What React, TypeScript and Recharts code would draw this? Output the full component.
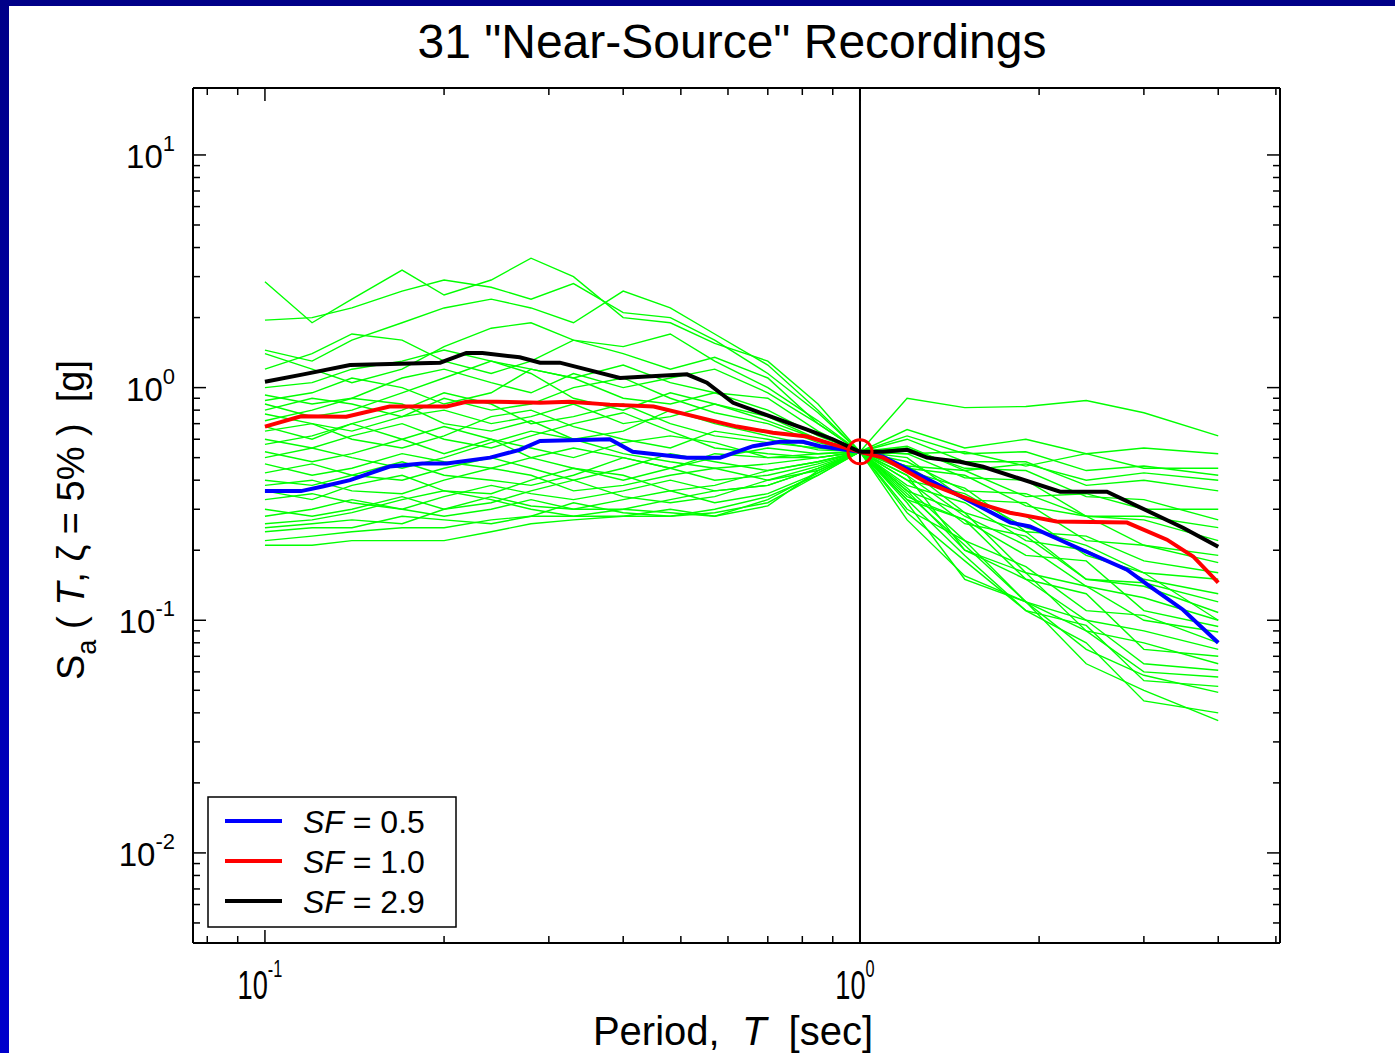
import React from "react";
import { LineChart, Line, XAxis, YAxis, ReferenceLine, ReferenceDot } from "recharts";

// periods (sec) at which the 31 record spectra are sampled
const PERIODS = [0.1, 0.12, 0.14, 0.17, 0.2, 0.24, 0.28, 0.33, 0.4, 0.48, 0.57, 0.7, 0.85, 1.0, 1.2, 1.5, 1.9, 2.4, 3.0, 4.0];

// Sa(T) [g] of each scaled record, one row per record
const RECORDS = [
  [2.85, 1.9, 2.4, 3.2, 2.5, 2.9, 3.6, 3.0, 2.0, 1.9, 1.55, 1.3, 0.85, 0.53, 0.5, 0.33, 0.28, 0.19, 0.16, 0.1],
  [1.95, 2.0, 2.2, 2.6, 2.9, 2.7, 2.4, 2.8, 2.1, 2.0, 1.6, 1.15, 0.78, 0.53, 0.9, 0.82, 0.83, 0.88, 0.78, 0.62],
  [1.45, 1.3, 1.6, 1.9, 2.2, 2.4, 2.2, 1.9, 2.6, 2.2, 1.7, 1.25, 0.8, 0.53, 0.45, 0.29, 0.24, 0.15, 0.145, 0.12],
  [1.4, 1.2, 1.05, 1.2, 1.5, 1.8, 1.9, 1.6, 1.5, 1.7, 1.3, 1.0, 0.72, 0.53, 0.56, 0.44, 0.47, 0.4, 0.43, 0.4],
  [1.2, 1.4, 1.7, 1.6, 1.3, 1.15, 1.3, 1.6, 1.4, 1.2, 1.35, 1.1, 0.7, 0.53, 0.33, 0.27, 0.15, 0.13, 0.075, 0.07],
  [1.0, 1.05, 1.2, 1.3, 1.45, 1.3, 1.2, 1.1, 1.25, 1.05, 0.95, 0.9, 0.65, 0.53, 0.66, 0.55, 0.6, 0.52, 0.55, 0.52],
  [0.93, 0.85, 0.9, 1.1, 1.2, 1.05, 0.95, 1.15, 1.0, 1.1, 1.2, 0.95, 0.7, 0.53, 0.46, 0.33, 0.32, 0.22, 0.21, 0.177],
  [0.88, 0.95, 1.1, 1.0, 0.85, 0.95, 1.2, 1.1, 0.9, 0.85, 0.95, 0.8, 0.62, 0.53, 0.27, 0.155, 0.12, 0.065, 0.05, 0.037],
  [0.85, 0.75, 0.8, 0.95, 1.1, 1.3, 1.15, 0.9, 0.8, 0.95, 0.85, 0.72, 0.6, 0.53, 0.55, 0.45, 0.44, 0.34, 0.33, 0.27],
  [0.8, 0.9, 0.85, 0.75, 0.9, 0.8, 0.85, 1.0, 1.1, 0.9, 0.78, 0.7, 0.58, 0.53, 0.36, 0.29, 0.16, 0.14, 0.1, 0.089],
  [0.77, 0.7, 0.65, 0.75, 0.8, 0.7, 0.75, 0.85, 0.7, 0.75, 0.85, 0.75, 0.6, 0.53, 0.62, 0.52, 0.53, 0.44, 0.46, 0.42],
  [0.72, 0.8, 0.9, 0.85, 0.7, 0.65, 0.72, 0.6, 0.65, 0.8, 0.7, 0.62, 0.56, 0.53, 0.3, 0.22, 0.12, 0.09, 0.06, 0.057],
  [0.68, 0.6, 0.7, 0.8, 0.95, 0.85, 0.7, 0.75, 0.85, 0.7, 0.62, 0.58, 0.55, 0.53, 0.48, 0.36, 0.35, 0.28, 0.28, 0.25],
  [0.65, 0.7, 0.6, 0.55, 0.62, 0.75, 0.8, 0.68, 0.6, 0.55, 0.65, 0.6, 0.54, 0.53, 0.4, 0.26, 0.23, 0.15, 0.14, 0.108],
  [0.6, 0.55, 0.62, 0.7, 0.6, 0.55, 0.62, 0.7, 0.78, 0.65, 0.55, 0.52, 0.5, 0.53, 0.52, 0.53, 0.46, 0.52, 0.45, 0.45],
  [0.57, 0.62, 0.7, 0.6, 0.52, 0.6, 0.55, 0.5, 0.58, 0.62, 0.58, 0.5, 0.5, 0.53, 0.36, 0.2, 0.16, 0.09, 0.08, 0.065],
  [0.53, 0.48, 0.52, 0.6, 0.68, 0.6, 0.5, 0.55, 0.5, 0.45, 0.5, 0.55, 0.52, 0.53, 0.45, 0.42, 0.31, 0.28, 0.21, 0.19],
  [0.5, 0.55, 0.5, 0.45, 0.5, 0.58, 0.65, 0.6, 0.52, 0.48, 0.45, 0.47, 0.5, 0.53, 0.29, 0.18, 0.11, 0.08, 0.045, 0.04],
  [0.47, 0.42, 0.45, 0.52, 0.48, 0.45, 0.5, 0.45, 0.4, 0.45, 0.52, 0.5, 0.52, 0.53, 0.6, 0.48, 0.48, 0.38, 0.4, 0.36],
  [0.43, 0.47, 0.42, 0.4, 0.45, 0.5, 0.45, 0.4, 0.45, 0.52, 0.48, 0.44, 0.48, 0.53, 0.4, 0.35, 0.25, 0.21, 0.16, 0.15],
  [0.4, 0.38, 0.42, 0.48, 0.42, 0.4, 0.38, 0.42, 0.5, 0.45, 0.4, 0.42, 0.47, 0.53, 0.37, 0.22, 0.17, 0.11, 0.105, 0.08],
  [0.38, 0.4, 0.36, 0.35, 0.4, 0.45, 0.42, 0.36, 0.38, 0.42, 0.45, 0.4, 0.46, 0.53, 0.46, 0.44, 0.34, 0.35, 0.3, 0.3],
  [0.36, 0.33, 0.38, 0.42, 0.36, 0.35, 0.4, 0.45, 0.42, 0.36, 0.38, 0.44, 0.48, 0.53, 0.35, 0.21, 0.12, 0.1, 0.065, 0.061],
  [0.33, 0.35, 0.32, 0.3, 0.34, 0.38, 0.35, 0.33, 0.36, 0.4, 0.36, 0.38, 0.45, 0.53, 0.52, 0.41, 0.4, 0.28, 0.27, 0.22],
  [0.3, 0.28, 0.3, 0.34, 0.3, 0.32, 0.36, 0.4, 0.34, 0.32, 0.34, 0.4, 0.44, 0.53, 0.33, 0.19, 0.11, 0.095, 0.055, 0.052],
  [0.28, 0.3, 0.33, 0.3, 0.28, 0.3, 0.33, 0.3, 0.33, 0.36, 0.32, 0.35, 0.43, 0.53, 0.44, 0.37, 0.24, 0.23, 0.18, 0.16],
  [0.26, 0.27, 0.29, 0.33, 0.36, 0.33, 0.3, 0.28, 0.3, 0.33, 0.36, 0.38, 0.45, 0.53, 0.42, 0.2, 0.15, 0.1, 0.09, 0.075],
  [0.25, 0.26, 0.27, 0.26, 0.3, 0.34, 0.31, 0.3, 0.3, 0.29, 0.28, 0.33, 0.43, 0.53, 0.38, 0.32, 0.22, 0.2, 0.15, 0.13],
  [0.24, 0.25, 0.25, 0.28, 0.27, 0.26, 0.28, 0.32, 0.29, 0.28, 0.3, 0.34, 0.42, 0.53, 0.32, 0.15, 0.12, 0.075, 0.058, 0.049],
  [0.22, 0.23, 0.24, 0.25, 0.25, 0.27, 0.28, 0.28, 0.28, 0.3, 0.28, 0.31, 0.44, 0.53, 0.42, 0.28, 0.21, 0.14, 0.125, 0.1],
  [0.21, 0.21, 0.22, 0.22, 0.22, 0.24, 0.26, 0.27, 0.28, 0.28, 0.29, 0.32, 0.42, 0.53, 0.34, 0.27, 0.19, 0.18, 0.11, 0.094],
];

// median spectra for the three scale factors
const BLUE_T = [0.1, 0.115, 0.125, 0.139, 0.162, 0.184, 0.202, 0.239, 0.268, 0.29, 0.38, 0.415, 0.512, 0.582, 0.661, 0.734, 0.802, 0.857, 1.0, 1.093, 1.31, 1.79, 1.93, 2.37, 2.81, 3.07, 3.49, 4.0];
const BLUE_SA = [0.359, 0.359, 0.376, 0.4, 0.458, 0.472, 0.472, 0.5, 0.54, 0.59, 0.6, 0.53, 0.5, 0.5, 0.56, 0.585, 0.585, 0.56, 0.53, 0.505, 0.4, 0.263, 0.253, 0.2, 0.165, 0.14, 0.111, 0.08];
const RED_T = [0.1, 0.115, 0.137, 0.162, 0.202, 0.218, 0.245, 0.29, 0.325, 0.38, 0.45, 0.553, 0.621, 0.714, 0.815, 0.9, 1.0, 1.093, 1.296, 1.61, 1.786, 2.14, 2.81, 3.28, 3.63, 4.0];
const RED_SA = [0.68, 0.753, 0.75, 0.83, 0.83, 0.87, 0.87, 0.86, 0.87, 0.845, 0.83, 0.73, 0.68, 0.64, 0.616, 0.57, 0.53, 0.5, 0.39, 0.314, 0.29, 0.266, 0.263, 0.222, 0.188, 0.145];
const BLACK_T = [0.1, 0.116, 0.139, 0.197, 0.218, 0.232, 0.268, 0.29, 0.313, 0.395, 0.512, 0.553, 0.612, 0.815, 0.9, 1.0, 1.093, 1.2, 1.296, 1.472, 1.61, 2.17, 2.6, 3.49, 4.0];
const BLACK_SA = [1.06, 1.14, 1.25, 1.28, 1.41, 1.41, 1.35, 1.28, 1.28, 1.1, 1.14, 1.05, 0.86, 0.66, 0.6, 0.53, 0.53, 0.54, 0.5, 0.48, 0.457, 0.357, 0.357, 0.25, 0.207];

const SCALE_FACTORS = ["0.5", "1.0", "2.9"];
const MEAN_COLORS = ["#0000ff", "#ff0000", "#000000"];

const TARGET_T = 1.0;
const TARGET_SA = 0.53;

const X_DOMAIN = [0.0757, 5.08];
const Y_DOMAIN = [0.0041, 19.4];
const X_TICKS = [0.08, 0.09, 0.1, 0.2, 0.3, 0.4, 0.5, 0.6, 0.7, 0.8, 0.9, 1, 2, 3, 4, 5];
const X_DECADES = [0.1, 1];
const X_EXPONENTS = ["-1", "0"];
const Y_TICKS = [
  0.005, 0.006, 0.007, 0.008, 0.009,
  0.01, 0.02, 0.03, 0.04, 0.05, 0.06, 0.07, 0.08, 0.09,
  0.1, 0.2, 0.3, 0.4, 0.5, 0.6, 0.7, 0.8, 0.9,
  1, 2, 3, 4, 5, 6, 7, 8, 9, 10,
];
const Y_DECADES = [0.01, 0.1, 1, 10];
const Y_EXPONENTS = ["-2", "-1", "0", "1"];

const FONT = '"Liberation Sans", Arial, Helvetica, sans-serif';

const toPoints = (ts: number[], vs: number[]) => ts.map((T, i) => ({ T, sa: vs[i] }));

const recordData = RECORDS.map((r) => toPoints(PERIODS, r));
const means = [
  toPoints(BLUE_T, BLUE_SA),
  toPoints(RED_T, RED_SA),
  toPoints(BLACK_T, BLACK_SA),
];

function decadeIndex(v: number, decades: number[]) {
  return decades.findIndex((d) => Math.abs(d - v) / d < 1e-6);
}

function AxisTick(props: any) {
  const { x, y, payload, side } = props;
  const v = payload.value;
  const decades = side === "bottom" || side === "top" ? X_DECADES : Y_DECADES;
  const k = decadeIndex(v, decades);
  const len = k >= 0 ? 13 : 7;
  if (side === "bottom") {
    // x labels in the original are drawn tall and narrow
    return (
      <g>
        <line x1={x} y1={y} x2={x} y2={y - len} stroke="#000" strokeWidth={1.5} />
        {k >= 0 && (
          <text
            transform={`translate(${x - 5}, ${y + 56}) scale(0.68, 1)`}
            textAnchor="middle"
            fontFamily={FONT}
            fontSize={40}
            fill="#000"
          >
            10
            <tspan dy={-22} fontSize={24}>{X_EXPONENTS[k]}</tspan>
          </text>
        )}
      </g>
    );
  }
  if (side === "top") {
    return <line x1={x} y1={y} x2={x} y2={y + len} stroke="#000" strokeWidth={1.5} />;
  }
  if (side === "left") {
    return (
      <g>
        <line x1={x} y1={y} x2={x + len} y2={y} stroke="#000" strokeWidth={1.5} />
        {k >= 0 && (
          <text x={x - 18} y={y + 13} textAnchor="end" fontFamily={FONT} fontSize={33} fill="#000">
            10
            <tspan dy={-17} fontSize={22}>{Y_EXPONENTS[k]}</tspan>
          </text>
        )}
      </g>
    );
  }
  return <line x1={x} y1={y} x2={x - len} y2={y} stroke="#000" strokeWidth={1.5} />;
}

export default function App() {
  return (
    <div
      style={{
        position: "absolute",
        left: 0,
        top: 0,
        width: 1395,
        height: 1053,
        background: "linear-gradient(#000088, #0000cc)",
      }}
    >
      <div style={{ position: "absolute", left: 9, top: 6, right: 0, bottom: 0, background: "#ffffff" }} />
      <div style={{ position: "absolute", left: 0, top: 0 }}>
        <LineChart width={1395} height={1053} margin={{ top: 87, right: 114, bottom: 109, left: 192 }}>
          <XAxis
            dataKey="T"
            type="number"
            scale="log"
            domain={X_DOMAIN}
            allowDataOverflow
            ticks={X_TICKS}
            interval={0}
            height={1}
            tickSize={0}
            tickMargin={0}
            tickLine={false}
            axisLine={{ stroke: "#000", strokeWidth: 2 }}
            tick={(p: any) => <AxisTick {...p} side="bottom" />}
          />
          <XAxis
            xAxisId="top"
            orientation="top"
            dataKey="T"
            type="number"
            scale="log"
            domain={X_DOMAIN}
            allowDataOverflow
            ticks={X_TICKS}
            interval={0}
            height={1}
            tickSize={0}
            tickMargin={0}
            tickLine={false}
            axisLine={{ stroke: "#000", strokeWidth: 2 }}
            tick={(p: any) => <AxisTick {...p} side="top" />}
          />
          <YAxis
            type="number"
            scale="log"
            domain={Y_DOMAIN}
            allowDataOverflow
            ticks={Y_TICKS}
            interval={0}
            width={1}
            tickSize={0}
            tickMargin={0}
            tickLine={false}
            axisLine={{ stroke: "#000", strokeWidth: 2 }}
            tick={(p: any) => <AxisTick {...p} side="left" />}
          />
          <YAxis
            yAxisId="right"
            orientation="right"
            type="number"
            scale="log"
            domain={Y_DOMAIN}
            allowDataOverflow
            ticks={Y_TICKS}
            interval={0}
            width={1}
            tickSize={0}
            tickMargin={0}
            tickLine={false}
            axisLine={{ stroke: "#000", strokeWidth: 2 }}
            tick={(p: any) => <AxisTick {...p} side="right" />}
          />
          {recordData.map((d, i) => (
            <Line
              key={"rec" + i}
              data={d}
              dataKey="sa"
              type="linear"
              stroke="#00ff00"
              strokeWidth={1.4}
              dot={false}
              activeDot={false}
              isAnimationActive={false}
            />
          ))}
          <ReferenceLine x={TARGET_T} stroke="#000" strokeWidth={2} />
          {means.map((d, i) => (
            <Line
              key={"mean" + i}
              data={d}
              dataKey="sa"
              name={"SF = " + SCALE_FACTORS[i]}
              type="linear"
              stroke={MEAN_COLORS[i]}
              strokeWidth={4}
              dot={false}
              activeDot={false}
              isAnimationActive={false}
            />
          ))}
          <ReferenceDot x={TARGET_T} y={TARGET_SA} r={12} fill="none" stroke="#ff0000" strokeWidth={3} />
        </LineChart>
      </div>
      <svg
        width={1395}
        height={1053}
        style={{ position: "absolute", left: 0, top: 0, pointerEvents: "none" }}
        fontFamily={FONT}
      >
        <text x={732} y={58} textAnchor="middle" fontSize={48} fill="#000">
          31 "Near-Source" Recordings
        </text>
        <text x={733} y={1045} textAnchor="middle" fontSize={40} fill="#000" style={{ whiteSpace: "pre" }}>
          {"Period,  "}
          <tspan fontStyle="italic">T</tspan>
          {"  [sec]"}
        </text>
        <text
          transform="translate(84, 520) rotate(-90)"
          textAnchor="middle"
          fontSize={38}
          fill="#000"
          style={{ whiteSpace: "pre" }}
        >
          S
          <tspan dy={12} fontSize={27}>a</tspan>
          <tspan dy={-12}>{" ( "}</tspan>
          <tspan fontStyle="italic">T</tspan>
          <tspan>{", ζ = 5% )  [g]"}</tspan>
        </text>
        <rect x={208} y={797} width={248} height={130} fill="#fff" stroke="#000" strokeWidth={1.5} />
        {SCALE_FACTORS.map((sf, i) => (
          <g key={sf}>
            <line x1={225} x2={282} y1={821 + i * 40} y2={821 + i * 40} stroke={MEAN_COLORS[i]} strokeWidth={4} />
            <text x={303} y={833 + i * 40} fontSize={32} fill="#000" style={{ whiteSpace: "pre" }}>
              <tspan fontStyle="italic">SF</tspan>
              {" = " + sf}
            </text>
          </g>
        ))}
      </svg>
    </div>
  );
}
